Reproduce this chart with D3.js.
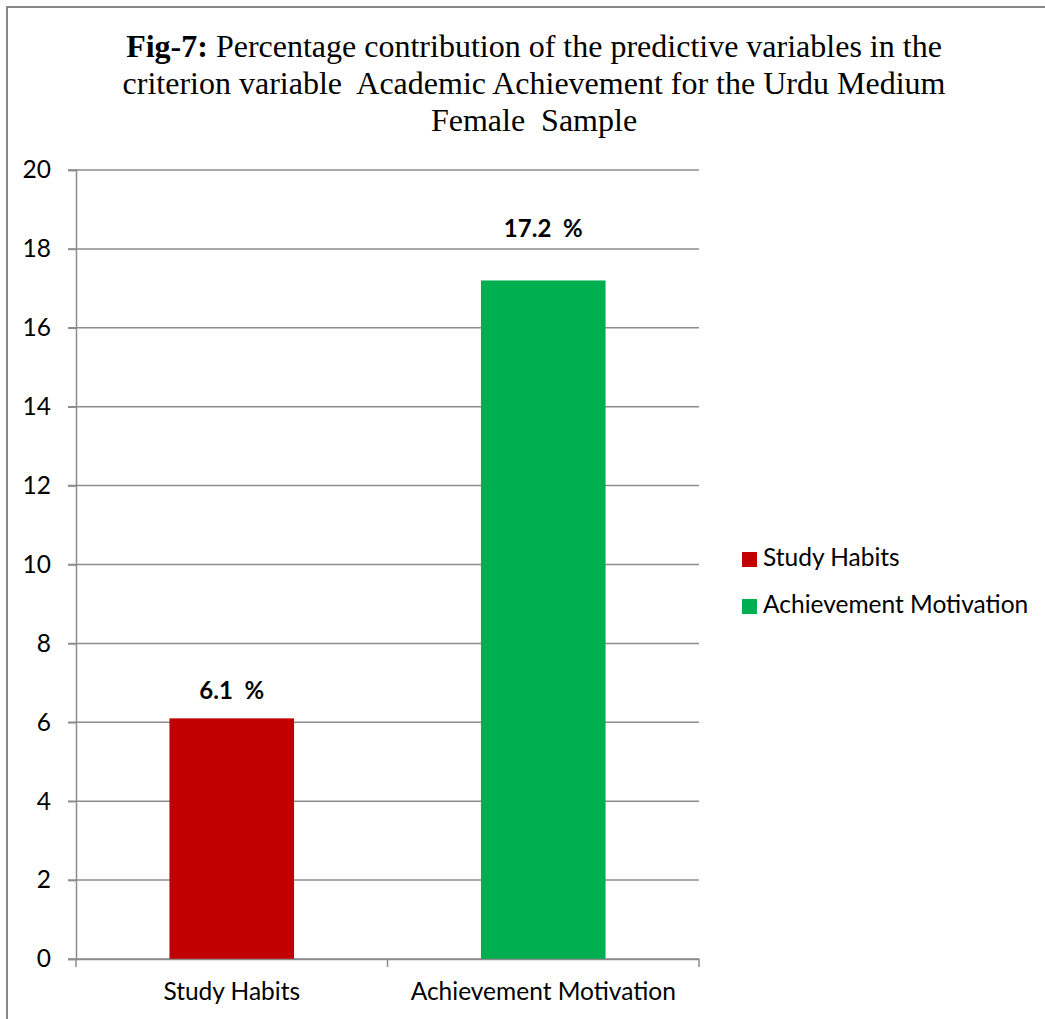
<!DOCTYPE html>
<html><head><meta charset="utf-8">
<script src="https://cdn.jsdelivr.net/npm/d3@7"></script>
<style>body{margin:0;background:#fff}</style>
</head><body>
<svg id="c" width="1045" height="1019"></svg>
<script>
const categories = ["Study Habits", "Achievement Motivation"];
const values = [6.1, 17.2];
const labels = ["6.1  %", "17.2  %"];
const colors = ["#C00000", "#00B050"];
const yTicks = [0, 2, 4, 6, 8, 10, 12, 14, 16, 18, 20];
const titleLines = [
  [{t:"Fig-7:", b:true},{t:" Percentage contribution of the predictive variables in the", b:false}],
  [{t:"criterion variable  Academic Achievement for the Urdu Medium", b:false}],
  [{t:"Female  Sample", b:false}]
];
const labelOffsets = [19, 43];

const svg = d3.select("#c");
const sans = "Lato, 'Open Sans', sans-serif";
const grid = "#8c8c8c";
const fs = 24.5;

svg.append("rect").attr("x",7).attr("y",7).attr("width",1100).attr("height",1100)
  .attr("fill","none").attr("stroke","#878787").attr("stroke-width",2);

const x = d3.scaleBand().domain(categories).range([76, 699]).padding(0);
const y = d3.scaleLinear().domain([0, 20]).range([959, 170]);

// gridlines
svg.append("g").selectAll("line").data(yTicks).join("line")
  .attr("x1", 68).attr("x2", 699)
  .attr("y1", d => y(d)).attr("y2", d => y(d))
  .attr("stroke", grid).attr("stroke-width", 1.5);

// y axis
const yAxis = svg.append("g").attr("transform","translate(76,0)")
  .call(d3.axisLeft(y).tickValues(yTicks).tickSize(8).tickPadding(17));
yAxis.select(".domain").attr("stroke", grid).attr("stroke-width",1.5);
yAxis.selectAll(".tick line").attr("stroke", grid).attr("stroke-width",1.5);
yAxis.selectAll("text").attr("font-family", sans).attr("font-size", fs).attr("fill","#000");

// bars
const bw = x.bandwidth()*0.4;
svg.append("g").selectAll("rect").data(categories).join("rect")
  .attr("x", (d)=> x(d) + x.bandwidth()/2 - bw/2)
  .attr("width", bw)
  .attr("y", (d,i)=> y(values[i]))
  .attr("height", (d,i)=> y(0) - y(values[i]))
  .attr("fill", (d,i)=> colors[i]);

// x axis
const xAxis = svg.append("g").attr("transform","translate(0,959)")
  .call(d3.axisBottom(x).tickSize(0).tickPadding(24));
xAxis.select(".domain").attr("stroke", grid).attr("stroke-width",1.5);
xAxis.selectAll("text").attr("font-family", sans).attr("font-size", fs).attr("fill","#000");
// category boundary ticks
const bounds = [x(categories[0]), x(categories[1]), x(categories[1]) + x.bandwidth()];
svg.append("g").selectAll("line").data(bounds).join("line")
  .attr("x1", d=>d).attr("x2", d=>d).attr("y1", 959).attr("y2", 967)
  .attr("stroke", grid).attr("stroke-width",1.5);

// data labels
svg.append("g").selectAll("text").data(categories).join("text")
  .attr("x", (d)=> x(d) + x.bandwidth()/2)
  .attr("y", (d,i)=> y(values[i]) - labelOffsets[i])
  .attr("text-anchor","middle").attr("font-family", sans).attr("font-weight","bold")
  .attr("font-size", 24).attr("fill","#000")
  .style("white-space","pre").text((d,i)=>labels[i]);

// legend
const lg = svg.append("g").selectAll("g").data(categories).join("g")
  .attr("transform", (d,i)=>`translate(742,${552 + i*47})`);
lg.append("rect").attr("width",15).attr("height",15).attr("fill",(d,i)=>colors[i]);
lg.append("text").attr("x",21).attr("y",14).attr("font-family",sans).attr("font-size",fs)
  .attr("fill","#000").text(d=>d);

// title
const tt = svg.append("g").selectAll("text").data(titleLines).join("text")
  .attr("x", 534).attr("y", (d,i)=> 57 + i*37)
  .attr("text-anchor","middle").attr("font-family","'Liberation Serif', 'Times New Roman', serif")
  .attr("font-size", 32).attr("fill","#000").style("white-space","pre");
tt.selectAll("tspan").data(d=>d).join("tspan")
  .attr("font-weight", d=>d.b ? "bold":"normal").text(d=>d.t);
</script>
</body></html>
